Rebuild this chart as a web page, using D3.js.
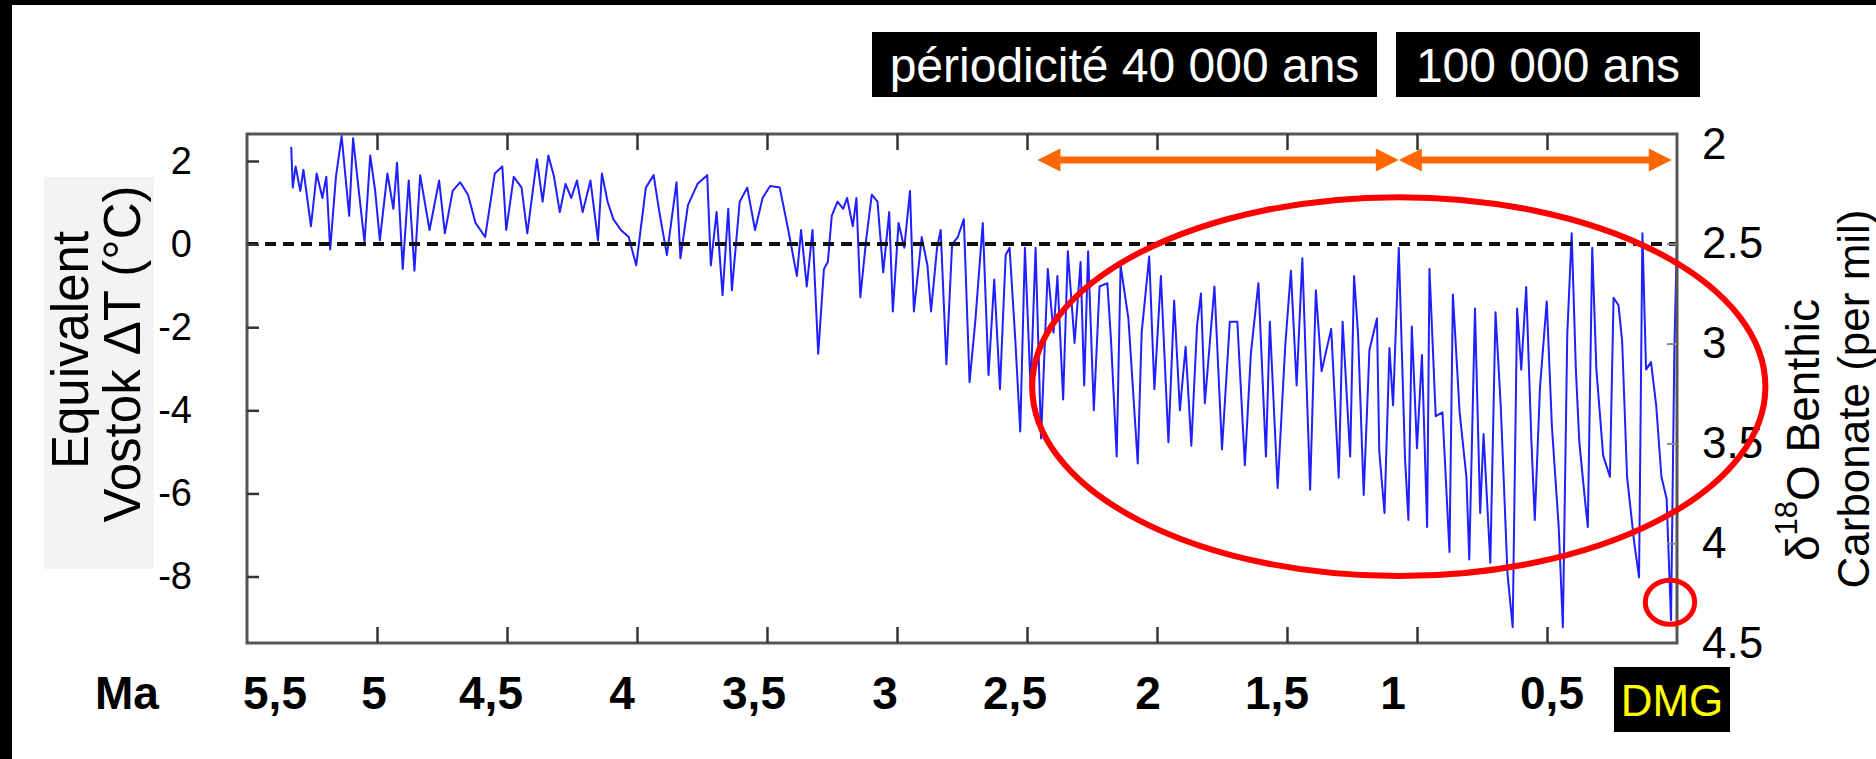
<!DOCTYPE html>
<html><head><meta charset="utf-8">
<script src="https://cdn.jsdelivr.net/npm/d3@7"></script>
<style>
html,body{margin:0;padding:0;background:#fff;}
svg{display:block;font-family:"Liberation Sans",Arial,Helvetica,sans-serif;}
</style></head><body>
<svg id="chart" width="1876" height="759"></svg>
<script>
// ---------------- DATA ----------------
// Equivalent Vostok ΔT (°C), [age in Ma, ΔT]
const vostokSeries = [
[5.330,2.34],[5.324,1.36],[5.313,1.87],[5.295,1.28],[5.283,1.79],[5.254,0.43],[5.232,1.70],[5.210,1.11],[5.195,1.62],[5.180,-0.13],
[5.158,1.62],[5.136,2.60],[5.107,0.68],[5.092,2.55],[5.070,1.28],[5.048,0.04],[5.026,2.13],[5.007,1.28],[4.989,0.09],[4.960,1.70],
[4.937,0.85],[4.923,1.96],[4.901,-0.60],[4.878,1.53],[4.856,-0.64],[4.834,1.66],[4.798,0.34],[4.761,1.53],[4.739,0.26],[4.709,1.28],
[4.680,1.49],[4.650,1.19],[4.621,0.51],[4.584,0.17],[4.547,1.70],[4.518,1.87],[4.503,0.34],[4.474,1.62],[4.444,1.36],[4.422,0.26],
[4.385,2.04],[4.363,1.02],[4.341,2.13],[4.319,1.62],[4.297,0.77],[4.275,1.45],[4.253,1.11],[4.231,1.53],[4.209,0.77],[4.179,1.53],
[4.150,0.09],[4.135,1.70],[4.113,1.02],[4.091,0.60],[4.062,0.34],[4.032,0.17],[4.003,-0.51],[3.966,1.36],[3.936,1.66],[3.914,0.77],
[3.885,-0.26],[3.848,1.49],[3.833,-0.34],[3.804,0.94],[3.767,1.45],[3.730,1.66],[3.716,-0.51],[3.694,0.77],[3.671,-1.23],[3.649,0.85],
[3.635,-1.11],[3.605,1.02],[3.576,1.36],[3.546,0.34],[3.517,1.11],[3.488,1.40],[3.451,1.36],[3.421,0.43],[3.385,-0.77],
[3.369,0.34],[3.347,-1.02],[3.325,0.34],[3.303,-2.64],[3.281,-0.60],[3.266,-0.43],[3.251,0.68],[3.229,1.02],[3.207,0.85],[3.192,1.11],
[3.170,0.43],[3.156,1.11],[3.141,-1.28],[3.119,0.09],[3.097,1.19],[3.075,1.02],[3.053,-0.68],[3.030,0.77],[3.016,-1.62],[2.994,0.51],
[2.972,-0.09],[2.950,1.28],[2.935,-1.62],[2.905,0.17],[2.883,-0.51],[2.869,-1.62],[2.846,-0.09],[2.832,0.34],[2.810,-2.89],[2.788,0.00],
[2.766,0.17],[2.743,0.60],[2.721,-3.32],[2.699,-1.87],[2.670,0.51],[2.648,-3.15],[2.626,-0.85],[2.604,-3.49],[2.582,-0.26],[2.567,-0.09],
[2.545,-2.30],[2.526,-4.51],[2.508,-0.09],[2.486,-3.49],[2.467,-0.09],[2.446,-4.68],[2.420,-0.60],[2.398,-2.13],[2.383,-0.77],[2.361,-3.74],
[2.343,-0.17],[2.317,-2.38],[2.294,-0.43],[2.280,-3.40],[2.265,-0.17],[2.243,-4.00],[2.221,-1.02],[2.191,-0.94],[2.177,-2.30],[2.155,-5.11],
[2.140,-0.51],[2.110,-1.79],[2.074,-5.28],[2.059,-2.13],[2.030,-0.30],[2.010,-3.49],[1.985,-0.77],[1.956,-4.77],[1.934,-1.36],[1.912,-4.00],
[1.890,-2.47],[1.868,-4.85],[1.846,-1.96],[1.831,-1.19],[1.816,-3.83],[1.779,-1.02],[1.750,-4.94],[1.720,-1.87],[1.691,-1.87],[1.662,-5.32],
[1.639,-2.64],[1.610,-0.94],[1.581,-5.11],[1.566,-1.87],[1.536,-5.87],[1.507,-2.47],[1.485,-0.64],[1.463,-3.40],[1.441,-0.34],[1.411,-5.91],
[1.389,-1.11],[1.367,-3.06],[1.330,-2.04],[1.301,-5.62],[1.286,-1.87],[1.257,-5.11],[1.242,-0.77],[1.227,-2.13],[1.205,-6.04],[1.183,-2.55],
[1.154,-1.79],
[1.145,-5.00],[1.125,-6.47],[1.106,-2.50],[1.092,-3.88],[1.070,-0.09],[1.046,-5.17],[1.033,-6.64],[1.020,-1.98],[1.000,-4.91],[0.981,-2.67],
[0.961,-6.81],[0.952,-0.60],[0.928,-4.14],[0.902,-4.05],[0.875,-7.41],[0.862,-1.21],[0.836,-4.05],[0.810,-5.60],[0.799,-7.59],[0.777,-1.55],
[0.757,-6.47],[0.744,-4.57],[0.718,-7.67],[0.698,-1.64],[0.678,-3.88],[0.652,-7.93],[0.632,-9.22],[0.615,-1.55],[0.599,-3.02],[0.580,-1.03],
[0.560,-4.74],[0.547,-6.64],[0.527,-3.45],[0.501,-1.38],[0.481,-4.40],[0.455,-6.81],[0.439,-9.22],[0.422,-2.16],[0.405,0.26],[0.389,-3.02],
[0.376,-4.74],[0.356,-6.03],[0.343,-6.81],[0.326,-0.09],[0.310,-3.02],[0.284,-5.09],[0.258,-5.60],[0.244,-1.29],[0.225,-1.47],[0.211,-2.33],
[0.192,-5.60],[0.165,-7.16],[0.146,-8.02],[0.133,0.26],[0.119,-3.02],[0.100,-2.84],[0.080,-3.88],[0.060,-5.60],[0.040,-6.12],[0.023,-9.05],
[0.010,-2.50],[0.001,-0.09]
];
const leftTicks = [2, 0, -2, -4, -6, -8];
const rightTicks = [2, 2.5, 3, 3.5, 4, 4.5];
const rightTickLabels = ["2", "2.5", "3", "3.5", "4", "4.5"];
const ageTicks = [5.5, 5, 4.5, 4, 3.5, 3, 2.5, 2, 1.5, 1, 0.5];
const ageTickLabels = ["5,5", "5", "4,5", "4", "3,5", "3", "2,5", "2", "1,5", "1", "0,5"];
const periodLabels = ["périodicité 40 000 ans", "100 000 ans"];
const periodSpans = [[2.46, 1.07], [1.07, 0.02]];   // Ma
const bigEllipse = {age: 1.07, dT: -3.43, rAge: 1.41, rDT: 4.56};
const smallCircle = {age: 0.027, dT: -8.62, rAge: 0.095, rDT: 0.53};

// ---------------- LAYOUT ----------------
const F = {left: 247, right: 1677, top: 134, bottom: 643};
const svg = d3.select("#chart");
const x = d3.scaleLinear().domain([5.5, 0]).range([F.left, F.right]);
const yL = d3.scaleLinear().domain([-9.6, 2.65]).range([F.bottom, F.top]);
const yR = d3.scaleLinear().domain([4.5, 1.95]).range([F.bottom, F.top]);
const FONT = "Liberation Sans, Arial, sans-serif";

svg.append("rect").attr("width", 1876).attr("height", 759).attr("fill", "#fff");
// black border strips
svg.append("rect").attr("x", 0).attr("y", 0).attr("width", 12).attr("height", 759).attr("fill", "#000");
svg.append("rect").attr("x", 0).attr("y", 0).attr("width", 1876).attr("height", 5).attr("fill", "#000");

// faint background behind left title
svg.append("rect").attr("x", 44).attr("y", 177).attr("width", 110).attr("height", 392).attr("fill", "#f3f3f3");

// clip
svg.append("clipPath").attr("id", "clip").append("rect")
  .attr("x", F.left).attr("y", F.top).attr("width", F.right - F.left).attr("height", F.bottom - F.top);

// series line
svg.append("path").datum(vostokSeries)
  .attr("clip-path", "url(#clip)")
  .attr("fill", "none").attr("stroke", "#1f1fff").attr("stroke-width", 2)
  .attr("stroke-linejoin", "round")
  .attr("d", d3.line().x(d => x(d[0])).y(d => yL(d[1])));

// dashed zero line
svg.append("line").attr("x1", F.left).attr("x2", F.right).attr("y1", yL(0)).attr("y2", yL(0))
  .attr("stroke", "#111").attr("stroke-width", 4).attr("stroke-dasharray", "11 7");

// frame
svg.append("rect").attr("x", F.left).attr("y", F.top).attr("width", F.right - F.left).attr("height", F.bottom - F.top)
  .attr("fill", "none").attr("stroke", "#555").attr("stroke-width", 3);

// x ticks (inside, top and bottom)
const innerAges = ageTicks.filter(d => d < 5.5 && d > 0);
const axB = svg.append("g").attr("transform", `translate(0,${F.bottom})`)
  .call(d3.axisBottom(x).tickValues(innerAges).tickSize(-16).tickFormat(""));
const axT = svg.append("g").attr("transform", `translate(0,${F.top})`)
  .call(d3.axisTop(x).tickValues(innerAges).tickSize(-16).tickFormat(""));
[axB, axT].forEach(g => { g.select(".domain").remove(); g.selectAll("line").attr("stroke", "#333").attr("stroke-width", 2.5); });

// left axis
const axL = svg.append("g").attr("transform", `translate(${F.left},0)`)
  .call(d3.axisLeft(yL).tickValues(leftTicks).tickSize(-12).tickPadding(55).tickFormat(d => d < 0 ? "-" + Math.abs(d) : d));
axL.select(".domain").remove();
axL.selectAll("line").attr("stroke", "#333").attr("stroke-width", 2.5);
axL.selectAll("text").attr("font-size", 38).attr("fill", "#000").attr("font-family", FONT);

// right axis
const axR = svg.append("g").attr("transform", `translate(${F.right},0)`)
  .call(d3.axisRight(yR).tickValues(rightTicks).tickSize(-10).tickPadding(25).tickFormat((d, i) => rightTickLabels[i]));
axR.select(".domain").remove();
axR.selectAll("line").attr("stroke", "#888").attr("stroke-width", 2)
  .attr("opacity", d => (d === 2 || d === 4.5) ? 0 : 1);
axR.selectAll("text").attr("font-size", 44).attr("fill", "#000").attr("font-family", FONT);

// left title
const lt = svg.append("g").attr("font-size", 51).attr("fill", "#000");
lt.append("text").attr("transform", "translate(70,350) rotate(-90)").attr("text-anchor", "middle")
  .attr("dominant-baseline", "central").text("Equivalent");
lt.append("text").attr("transform", "translate(122,354) rotate(-90)").attr("text-anchor", "middle")
  .attr("dominant-baseline", "central").text("Vostok ΔT (°C)");

// right title
const rt = svg.append("g").attr("fill", "#000");
const r1 = rt.append("text").attr("font-size", 46).attr("transform", "translate(1803,430) rotate(-90)").attr("text-anchor", "middle")
  .attr("dominant-baseline", "central");
r1.append("tspan").text("δ");
r1.append("tspan").attr("font-size", 31).attr("dy", -17).text("18");
r1.append("tspan").attr("dy", 17).text("O Benthic");
rt.append("text").attr("font-size", 44).attr("transform", "translate(1853,399) rotate(-90)").attr("text-anchor", "middle")
  .attr("dominant-baseline", "central").text("Carbonate (per mil)");

// orange period arrows
const arrowY = 160, headL = 23, headW = 11.5;
const ar = svg.append("g").attr("fill", "#ff6600").attr("stroke", "#ff6600");
periodSpans.forEach(s => {
  const xa = x(s[0]), xb = x(s[1]);
  ar.append("line").attr("x1", xa + headL - 2).attr("x2", xb - headL + 2).attr("y1", arrowY).attr("y2", arrowY)
    .attr("stroke-width", 7);
  ar.append("path").attr("stroke", "none")
    .attr("d", `M${xa},${arrowY} L${xa + headL},${arrowY - headW} L${xa + headL},${arrowY + headW} Z`);
  ar.append("path").attr("stroke", "none")
    .attr("d", `M${xb},${arrowY} L${xb - headL},${arrowY - headW} L${xb - headL},${arrowY + headW} Z`);
});

// red ellipses
[bigEllipse, smallCircle].forEach((e, i) => {
  svg.append("ellipse")
    .attr("cx", x(e.age)).attr("cy", yL(e.dT))
    .attr("rx", Math.abs(x(e.rAge) - x(0))).attr("ry", Math.abs(yL(0) - yL(e.rDT)))
    .attr("fill", "none").attr("stroke", "#ff0000").attr("stroke-width", i === 0 ? 6 : 5);
});

// top black labels
const boxes = [{x0: 872, x1: 1377}, {x0: 1396, x1: 1700}];
periodLabels.forEach((t, i) => {
  const b = boxes[i];
  svg.append("rect").attr("x", b.x0).attr("y", 32).attr("width", b.x1 - b.x0).attr("height", 65).attr("fill", "#000");
  svg.append("text").attr("x", (b.x0 + b.x1) / 2).attr("y", 82).attr("text-anchor", "middle")
    .attr("font-size", 48).attr("fill", "#fff").text(t);
});

// bottom age labels
const nudge = [28, -3, -16, -15, -13, -12, -12, -9, -10, -24, 5];
const bl = svg.append("g").attr("font-size", 46).attr("font-weight", "bold").attr("fill", "#000").attr("text-anchor", "middle");
bl.append("text").attr("x", 127).attr("y", 709).text("Ma");
ageTickLabels.forEach((t, i) => {
  bl.append("text").attr("x", x(ageTicks[i]) + nudge[i]).attr("y", 709).text(t);
});

// DMG box
svg.append("rect").attr("x", 1614).attr("y", 667).attr("width", 116).attr("height", 65).attr("fill", "#000");
svg.append("text").attr("x", 1672).attr("y", 716).attr("text-anchor", "middle")
  .attr("font-size", 44).attr("fill", "#ffff00").text("DMG");
</script>
</body></html>
